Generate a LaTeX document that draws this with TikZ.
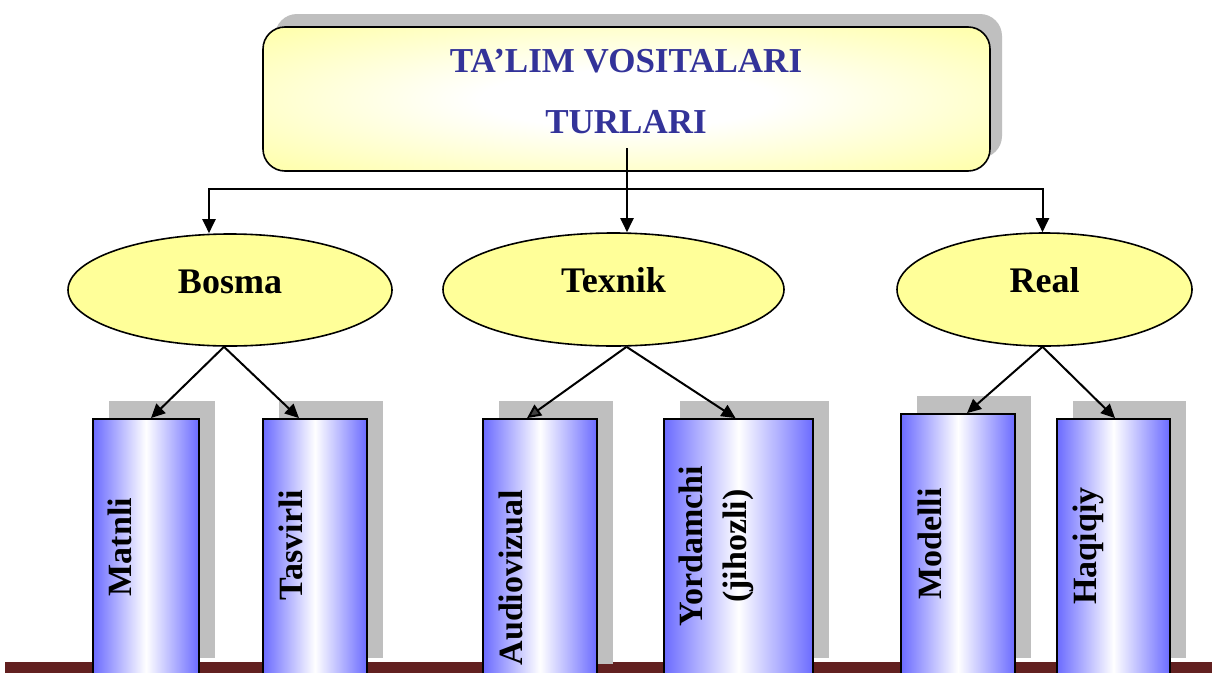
\documentclass[tikz,border=0pt]{standalone}
\usepackage{fontspec}
\setmainfont{Liberation Serif}
\usetikzlibrary{shapes.geometric,shadows,arrows.meta,calc}
\definecolor{titleblue}{HTML}{333399}
\definecolor{ellyellow}{HTML}{FFFF99}
\definecolor{colblue}{HTML}{6B6BFF}
\definecolor{shadowgray}{HTML}{BFBFBF}
\definecolor{barbrown}{HTML}{622020}
\definecolor{arrgray}{HTML}{404040}
\pgfdeclareradialshading{softglow}{\pgfpoint{0bp}{0bp}}{color(0bp)=(white); color(10bp)=(white); color(40bp)=(ellyellow); color(80bp)=(ellyellow)}
\begin{document}
\begin{tikzpicture}[x=1pt,y=-1pt,
  conn/.style={line width=2pt, -{Triangle[length=14pt,width=13pt]}},
  topbox/.style={rectangle, rounded corners=22pt, draw=black, line width=1.6pt,
    minimum width=727pt, minimum height=144pt, shading=softglow,
    drop shadow={shadow xshift=12pt, shadow yshift=13pt, fill=shadowgray, opacity=1}},
  titletext/.style={align=center, inner sep=0pt, text=titleblue,
    font=\bfseries\fontsize{35}{61}\selectfont},
  cat/.style={ellipse, draw=black, line width=1.6pt, fill=ellyellow, inner sep=0pt,
    font=\bfseries\fontsize{36}{40}\selectfont},
  colbox/.style={rectangle, draw=black, line width=1.8pt, inner sep=0pt,
    left color=colblue, right color=colblue, middle color=white,
    drop shadow={shadow xshift=16pt, shadow yshift=18pt, fill=shadowgray, opacity=1}},
  coltext/.style={rotate=90, anchor=base, inner sep=0pt, align=center,
    font=\bfseries\fontsize{34}{44}\selectfont},
]
\useasboundingbox (0,0) rectangle (1212,672);
\clip (0,0) rectangle (1212,672);
\fill[white] (0,0) rectangle (1212,672);

% bottom bar
\fill[barbrown] (5,662) rectangle (1212,690);

% title box
\node[topbox] (top) at (626.5,99) {};
\node[titletext] (title) at (626,91.5) {TA’LIM VOSITALARI\\TURLARI};

% categories
\node[cat, minimum width=324pt, minimum height=112pt] (bosma) at (230,290) {\raisebox{-3pt}[0pt][0pt]{Bosma}};
\node[cat, minimum width=341pt, minimum height=113pt] (texnik) at (613.5,289.5) {\raisebox{-3pt}[0pt][0pt]{Texnik}};
\node[cat, minimum width=295pt, minimum height=113pt] (real) at (1044.5,289.5) {\raisebox{-3pt}[0pt][0pt]{Real}};

% columns
\node[colbox, minimum width=106pt, minimum height=257pt] (matnli) at (146,547.5) {};
\node[colbox, minimum width=104pt, minimum height=257pt] (tasvirli) at (315,547.5) {};
\node[colbox, minimum width=114pt, minimum height=263pt] (audio) at (540,550.5) {};
\node[colbox, minimum width=149pt, minimum height=257pt] (yord) at (738.5,547.5) {};
\node[colbox, minimum width=114pt, minimum height=262pt] (modelli) at (958,545) {};
\node[colbox, minimum width=113pt, minimum height=257pt] (haqiqiy) at (1113.5,547.5) {};

% column labels
\node[coltext] (matnliT) at (131.5,547) {Matnli};
\node[coltext] (tasvirliT) at (302,545) {Tasvirli};
\node[coltext] (audioT) at (522,577.5) {Audiovizual};
\node[coltext, anchor=center] (yordT) at (716,546) {Yordamchi\\(jihozli)};
\node[coltext] (modelliT) at (941,544) {Modelli};
\node[coltext] (haqiqiyT) at (1096,546) {Haqiqiy};

% connectors from title
\coordinate (tstart) at (627,148);
\coordinate (junc) at (627,189);
\draw[conn] (tstart) -- (tstart |- texnik.north);
\draw[conn] (junc) -| ([xshift=-21pt]bosma.north);
\draw[conn] (junc) -| ([xshift=-2pt]real.north);

% connectors to columns
\draw[conn] ([xshift=-6pt]bosma.south) -- ([xshift=5pt]matnli.north);
\draw[conn] ([xshift=-6pt]bosma.south) -- ([xshift=-16pt]tasvirli.north);
\draw[conn, draw=black, -{Triangle[length=14pt,width=13pt,fill=arrgray]}] ([xshift=13pt]texnik.south) -- ([xshift=-13pt]audio.north);
\draw[conn] ([xshift=13pt]texnik.south) -- ([xshift=-3pt]yord.north);
\draw[conn] ([xshift=-2pt]real.south) -- ([xshift=9pt]modelli.north);
\draw[conn] ([xshift=-2pt]real.south) -- ([xshift=1.5pt]haqiqiy.north);
\end{tikzpicture}
\end{document}
